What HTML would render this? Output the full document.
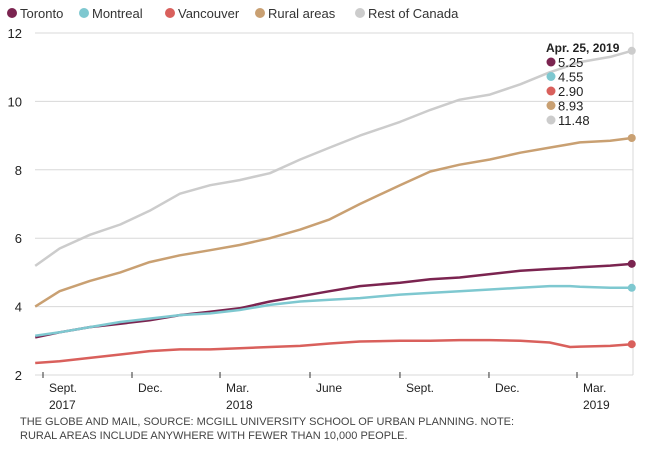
<!DOCTYPE html>
<html><head><meta charset="utf-8"><style>
body{margin:0;background:#fff;width:650px;height:451px;overflow:hidden;font-family:"Liberation Sans",sans-serif}
</style></head><body>
<svg width="650" height="451" id="chart" style="position:absolute;left:0;top:0"></svg>
<script>
const days=[-8,17,48,79,109,140,171,201,232,263,293,324,365,396,426,457,488,518,539,549,580,602];
const toronto=[3.1,3.25,3.4,3.5,3.6,3.75,3.85,3.95,4.15,4.3,4.45,4.6,4.7,4.8,4.85,4.95,5.05,5.1,5.13,5.15,5.2,5.25];
const montreal=[3.15,3.25,3.4,3.55,3.65,3.75,3.8,3.9,4.05,4.15,4.2,4.25,4.35,4.4,4.45,4.5,4.55,4.6,4.6,4.58,4.55,4.55];
const vancouver=[2.35,2.4,2.5,2.6,2.7,2.75,2.75,2.78,2.82,2.85,2.92,2.98,3.0,3.0,3.02,3.02,3.0,2.95,2.82,2.83,2.85,2.9];
const rural=[4.0,4.45,4.75,5.0,5.3,5.5,5.65,5.8,6.0,6.25,6.55,7.0,7.55,7.95,8.15,8.3,8.5,8.65,8.75,8.8,8.85,8.93];
const rest=[5.19,5.7,6.1,6.4,6.8,7.3,7.55,7.7,7.9,8.3,8.65,9.0,9.4,9.75,10.05,10.2,10.5,10.85,11.05,11.15,11.3,11.48];
const yTicks=[2,4,6,8,10,12];
const xTickDays=[0,91,181,273,365,456,546];
const xTickLabels=[["Sept.","2017"],["Dec.",""],["Mar.","2018"],["June",""],["Sept.",""],["Dec.",""],["Mar.","2019"]];
const seriesNames=["Toronto","Montreal","Vancouver","Rural areas","Rest of Canada"];
const seriesColors=["#7b2450","#7ec8d0","#d9605c","#c9a072","#cccccc"];
const lastLabels=["5.25","4.55","2.90","8.93","11.48"];

const NS="http://www.w3.org/2000/svg";
const svg=document.getElementById('chart');
const X=d=>43+d*0.978;
const Y=v=>375-(v-2)*34.2;
function mk(tag,attrs,parent){const e=document.createElementNS(NS,tag);for(const k in attrs)e.setAttribute(k,attrs[k]);(parent||svg).appendChild(e);return e;}

yTicks.forEach(v=>{
  const g=mk('line',{x1:35,x2:633,y1:Y(v),y2:Y(v),stroke:'#d8d8d8','stroke-width':1});
  
  
  const t=mk('text',{x:22,y:Y(v)+5,'text-anchor':'end','font-size':13,fill:'#222'});
  t.textContent=v;
  
  
});
const ax=mk('line',{x1:633,x2:633,y1:Y(12),y2:Y(2),stroke:'#d8d8d8','stroke-width':1});



xTickDays.forEach((d,i)=>{
  const tk=mk('line',{x1:X(d),x2:X(d),y1:372,y2:378,stroke:'#333','stroke-width':1});
  
  
  const t=mk('text',{x:X(d)+6,y:392,'font-size':12,fill:'#222'});
  t.textContent=xTickLabels[i][0];
  
  
  if(xTickLabels[i][1]){
    const t2=mk('text',{x:X(d)+6,y:409,'font-size':12,fill:'#222'});
    t2.textContent=xTickLabels[i][1];
    
    
  }
});

const all=[toronto,montreal,vancouver,rural,rest];
[4,3,0,1,2].forEach(i=>{
  const data=all[i];
  const p=mk('path',{d:data.map((v,j)=>(j?'L':'M')+X(days[j]).toFixed(1)+','+Y(v).toFixed(1)).join(''),fill:'none',stroke:seriesColors[i],'stroke-width':2.5,'stroke-linejoin':'round'});
  
  
  const n=data.length-1;
  const c=mk('circle',{cx:X(days[n]),cy:Y(data[n]),r:4,fill:seriesColors[i]});
  
  
});

let lx=6;
const legW=[72,86,90,100,120];
seriesNames.forEach((s,i)=>{
  const c=mk('circle',{cx:lx+6,cy:13,r:5,fill:seriesColors[i]});
  
  
  const t=mk('text',{x:lx+14,y:18,'font-size':13,fill:'#333'});
  t.textContent=s;
  
  
  lx+=legW[i];
});

const ah=mk('text',{x:546,y:52,'font-size':12,'font-weight':'bold',fill:'#222'});
ah.textContent='Apr. 25, 2019';


lastLabels.forEach((v,i)=>{
  const y=62+i*14.5;
  const c=mk('circle',{cx:551,cy:y,r:4.5,fill:seriesColors[i]});
  
  
  const t=mk('text',{x:558,y:y+5,'font-size':13,fill:'#222'});
  t.textContent=v;
  
  
});

const f1=mk('text',{x:20,y:425,'font-size':11,fill:'#444'});
f1.textContent='THE GLOBE AND MAIL, SOURCE: MCGILL UNIVERSITY SCHOOL OF URBAN PLANNING. NOTE:';


const f2=mk('text',{x:20,y:439,'font-size':11,fill:'#444'});
f2.textContent='RURAL AREAS INCLUDE ANYWHERE WITH FEWER THAN 10,000 PEOPLE.';


</script>
</body></html>
